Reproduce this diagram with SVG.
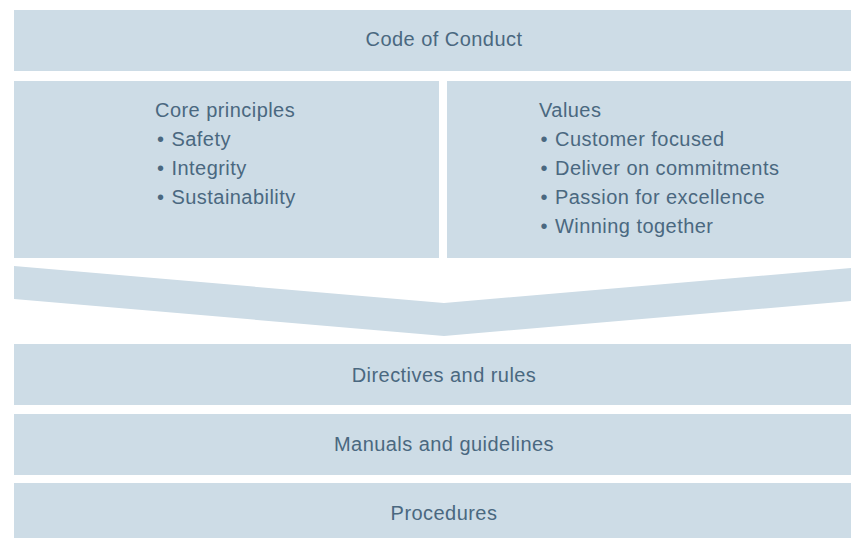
<svg xmlns="http://www.w3.org/2000/svg" width="851" height="538" viewBox="0 0 851 538">
<style>
.box{fill:#cddce6;}
.t{font-family:"Liberation Sans",Arial,Helvetica,sans-serif;font-size:20px;letter-spacing:0.45px;fill:#4a6880;}
.c{text-anchor:middle;}
</style>
<rect width="851" height="538" fill="#ffffff"/>
<g id="code-of-conduct">
<rect class="box" x="14" y="10" width="837" height="61"/>
<text class="t c" x="444" y="46">Code of Conduct</text>
</g>
<g id="core-principles">
<rect class="box" x="14" y="81" width="425" height="177"/>
<text class="t" x="155" y="117">Core principles</text>
<text class="t" x="157" y="146">•<tspan x="171.5">Safety</tspan></text>
<text class="t" x="157" y="175">•<tspan x="171.5">Integrity</tspan></text>
<text class="t" x="157" y="204">•<tspan x="171.5">Sustainability</tspan></text>
</g>
<g id="values">
<rect class="box" x="447" y="81" width="404" height="177"/>
<text class="t" x="539" y="117">Values</text>
<text class="t" x="540.5" y="146">•<tspan x="555">Customer focused</tspan></text>
<text class="t" x="540.5" y="175">•<tspan x="555">Deliver on commitments</tspan></text>
<text class="t" x="540.5" y="204">•<tspan x="555">Passion for excellence</tspan></text>
<text class="t" x="540.5" y="233">•<tspan x="555">Winning together</tspan></text>
</g>
<g id="connectors">
<polygon class="box" points="14,266 444,303 851,268 851,301 444,336 14,299"/>
</g>
<g id="directives">
<rect class="box" x="14" y="344" width="837" height="61"/>
<text class="t c" x="444" y="382">Directives and rules</text>
</g>
<g id="manuals">
<rect class="box" x="14" y="414" width="837" height="61"/>
<text class="t c" x="444" y="451">Manuals and guidelines</text>
</g>
<g id="procedures">
<rect class="box" x="14" y="483" width="837" height="61"/>
<text class="t c" x="444" y="520">Procedures</text>
</g>
</svg>
